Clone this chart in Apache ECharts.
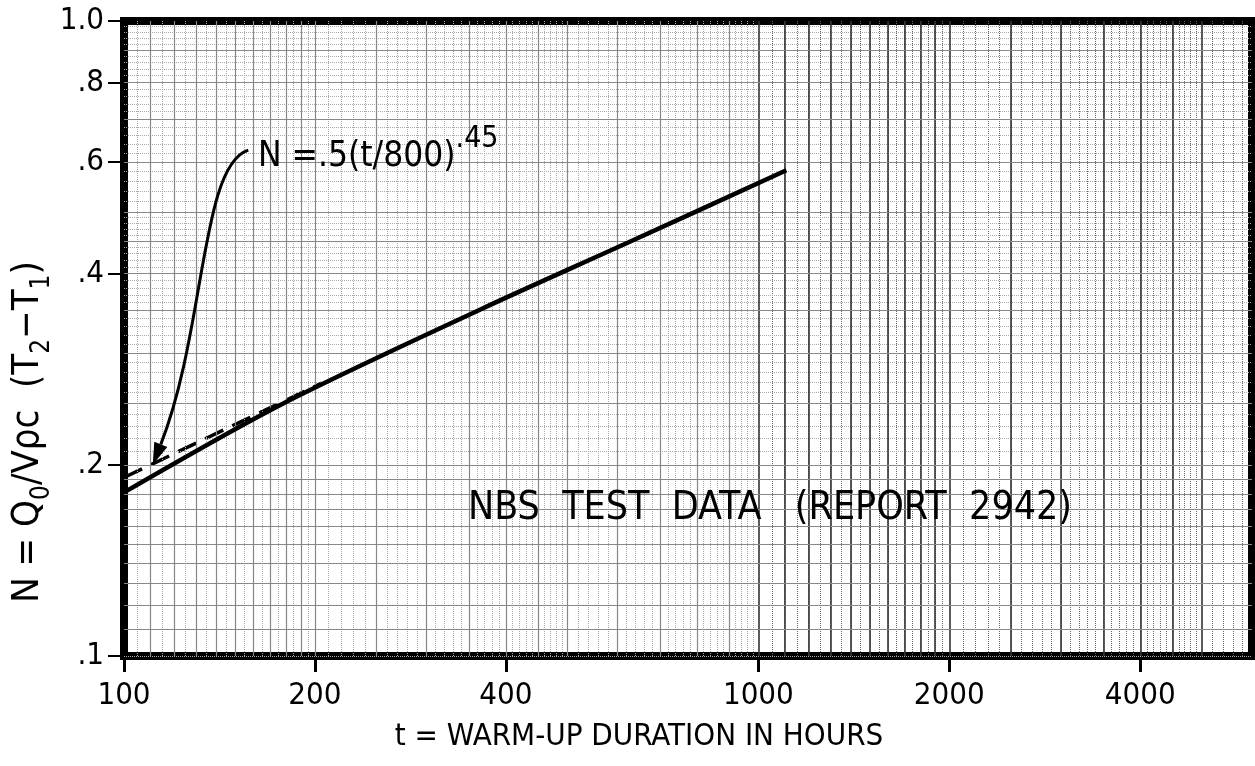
<!DOCTYPE html>
<html>
<head>
<meta charset="utf-8">
<title>NBS warm-up</title>
<script src="https://cdn.jsdelivr.net/npm/echarts@6/dist/echarts.min.js"></script>
<style>
  html, body { margin: 0; padding: 0; background: #fff; }
  #chart { width: 1255px; height: 766px; }
</style>
</head>
<body>
<div id="chart"></div>
<script>
  var tSolid = [100, 177, 364, 627, 1107]
  var nSolid = [0.181, 0.249, 0.351, 0.449, 0.582]
  var tDashed = [100, 205]
  var nDashed = [0.191, 0.269]

  // tick labels
  var xTicks = [100, 200, 400, 1000, 2000, 4000]
  var yTicks = [0.1, 0.2, 0.4, 0.6, 0.8, 1.0]
  var yTickText = ['.1', '.2', '.4', '.6', '.8', '1.0']

  // log paper rulings: [from, to, step]
  var xMinorSpec = [[100, 200, 5], [200, 500, 10], [500, 1000, 20], [1000, 2000, 50], [2000, 5000, 100], [5000, 6000, 200]]
  var xMajorSpec = [[100, 200, 10], [200, 500, 50], [500, 1000, 100], [1000, 2000, 100], [2000, 5000, 500], [5000, 6000, 1000]]
  var yMinorSpec = [[0.1, 0.2, 0.005], [0.2, 0.5, 0.01], [0.5, 1.0, 0.02]]
  var yMajorSpec = [[0.1, 0.2, 0.01], [0.2, 0.5, 0.05], [0.5, 1.0, 0.1]]

  // arrow from the formula down to the dashed line (data coords: start, cp1, cp2, tip)
  var arrowPath = [[157, 0.626], [132, 0.593], [134.5, 0.326], [111, 0.2]]

  var FONT = '"DejaVu Sans Condensed", "DejaVu Sans", sans-serif'

  function rulings (spec) {
    var out = []
    spec.forEach(function (s) {
      var n = Math.round((s[1] - s[0]) / s[2])
      for (var i = 1; i < n; i++) {
        out.push(+(s[0] + i * s[2]).toFixed(4))
      }
    })
    return out
  }

  function pairs (xs, ys) {
    return xs.map(function (x, i) { return [x, ys[i]] })
  }

  var gridLines = []
  rulings(xMinorSpec).forEach(function (v) {
    gridLines.push({xAxis: v, lineStyle: {color: v >= 1000 ? '#666' : '#aaa', width: 1, type: 'dotted'}})
  })
  rulings(yMinorSpec).forEach(function (v) {
    gridLines.push({yAxis: v, lineStyle: {color: '#aaa', width: 1, type: 'dotted'}})
  })
  rulings(xMajorSpec).concat([200, 500, 1000, 2000, 5000]).forEach(function (v) {
    gridLines.push({xAxis: v, lineStyle: {color: v >= 1000 ? '#333' : '#888', width: v >= 1000 ? 1.6 : 1.2, type: 'solid'}})
  })
  rulings(yMajorSpec).concat([0.2, 0.5]).forEach(function (v) {
    gridLines.push({yAxis: v, lineStyle: {color: '#888', width: 1.2, type: 'solid'}})
  })

  var myChart = echarts.init(document.getElementById('chart'))

  var option = {
    animation: false,
    backgroundColor: '#fff',
    grid: {
      left: 124,
      right: 3,
      top: 21,
      bottom: 110,
      show: true,
      borderColor: '#000',
      borderWidth: 8,
      backgroundColor: '#fff'
    },
    xAxis: {
      type: 'log',
      logBase: 10,
      min: 100,
      max: 6000,
      axisLine: {show: false},
      splitLine: {show: false},
      axisTick: {
        show: true,
        inside: false,
        length: 16,
        customValues: xTicks,
        lineStyle: {color: '#000', width: 3}
      },
      axisLabel: {
        customValues: xTicks,
        margin: 24,
        fontSize: 31,
        fontFamily: FONT,
        color: '#000',
        formatter: function (v) { return String(Math.round(v)) }
      }
    },
    yAxis: {
      type: 'log',
      logBase: 10,
      min: 0.1,
      max: 1.0,
      axisLine: {show: false},
      splitLine: {show: false},
      axisTick: {
        show: true,
        inside: false,
        length: 16,
        customValues: yTicks,
        lineStyle: {color: '#000', width: 2}
      },
      axisLabel: {
        customValues: yTicks,
        margin: 20,
        fontSize: 31,
        fontFamily: FONT,
        color: '#000',
        formatter: function (v) {
          var i = yTicks.findIndex(function (t) { return Math.abs(t - v) < 1e-6 })
          return i >= 0 ? yTickText[i] : ''
        }
      }
    },
    series: [
      {
        // graph-paper rulings
        name: 'paper',
        type: 'line',
        data: [],
        z: 1,
        silent: true,
        markLine: {
          silent: true,
          symbol: 'none',
          label: {show: false},
          data: gridLines
        }
      },
      {
        name: 'fit',
        type: 'line',
        data: pairs(tDashed, nDashed),
        showSymbol: false,
        z: 4,
        lineStyle: {color: '#000', width: 3.5, type: [20, 10]}
      },
      {
        name: 'test',
        type: 'line',
        data: pairs(tSolid, nSolid),
        showSymbol: false,
        smooth: 0.3,
        z: 5,
        lineStyle: {color: '#000', width: 4.5}
      }
    ]
  }
  myChart.setOption(option)

  // annotations: formula, arrow, report note, axis titles
  function drawNotes () {
    var p = arrowPath.map(function (d) { return myChart.convertToPixel({gridIndex: 0}, d) })
    var tip = p[3]
    var dx = tip[0] - p[2][0]
    var dy = tip[1] - p[2][1]
    var len = Math.sqrt(dx * dx + dy * dy)
    dx /= len
    dy /= len
    var bx = tip[0] - dx * 22
    var by = tip[1] - dy * 22

    myChart.setOption({
      graphic: [
        {
          type: 'bezierCurve',
          z: 10,
          shape: {
            x1: p[0][0], y1: p[0][1],
            cpx1: p[1][0], cpy1: p[1][1],
            cpx2: p[2][0], cpy2: p[2][1],
            x2: bx, y2: by
          },
          style: {stroke: '#000', lineWidth: 3, fill: null}
        },
        {
          type: 'polygon',
          z: 10,
          shape: {
            points: [tip, [bx - dy * 7, by + dx * 7], [bx + dy * 7, by - dx * 7]]
          },
          style: {fill: '#000'}
        },
        {
          type: 'text',
          z: 10,
          left: 258,
          top: 124,
          style: {
            text: '{b|N =.5(t/800)}{s|.45}',
            rich: {
              b: {fontSize: 35, fontFamily: FONT, fill: '#000', lineHeight: 50, verticalAlign: 'bottom'},
              s: {fontSize: 30, fontFamily: FONT, fill: '#000', lineHeight: 50, verticalAlign: 'top'}
            }
          }
        },
        {
          type: 'text',
          z: 10,
          x: 770,
          y: 509,
          style: {
            text: 'NBS  TEST  DATA   (REPORT  2942)',
            fontSize: 39,
            fontFamily: FONT,
            fill: '#000',
            align: 'center',
            verticalAlign: 'middle'
          }
        },
        {
          type: 'text',
          z: 10,
          x: 639,
          y: 737,
          style: {
            text: 't = WARM-UP DURATION IN HOURS',
            fontSize: 31,
            fontFamily: FONT,
            fill: '#000',
            align: 'center',
            verticalAlign: 'middle'
          }
        },
        {
          type: 'text',
          z: 10,
          x: 28,
          y: 432,
          rotation: Math.PI / 2,
          style: {
            text: '{b|N = Q}{s|0}{b|/Vρc  (T}{s|2}{b|−T}{s|1}{b|)}',
            align: 'center',
            verticalAlign: 'middle',
            rich: {
              b: {fontSize: 38, fontFamily: FONT, fill: '#000', lineHeight: 54, verticalAlign: 'middle'},
              s: {fontSize: 26, fontFamily: FONT, fill: '#000', lineHeight: 54, verticalAlign: 'bottom'}
            }
          }
        }
      ]
    })
  }
  drawNotes()
</script>
</body>
</html>
